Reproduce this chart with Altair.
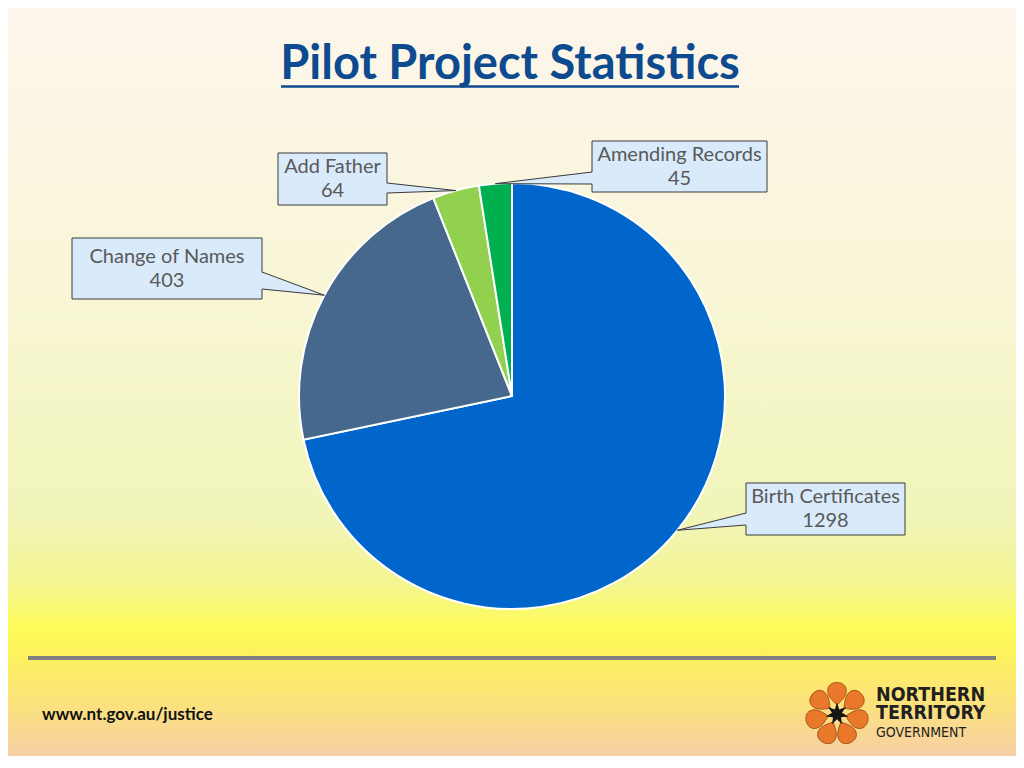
import math
import altair as alt
import pandas as pd
import numpy as np

# ---------------- data ----------------
categories = ["Birth Certificates", "Change of Names", "Add Father", "Amending Records"]
values = [1298, 403, 64, 45]
slice_colors = ["#0066cc", "#45688c", "#92d050", "#00b050"]

title_text = "Pilot Project Statis\u200ctics"
footer_text = "www.nt.gov.au/justice"
logo_lines = ["NORTHERN", "TERRITORY", "GOVERNMENT"]

# ---------------- layout (screen px) ----------------
W, H = 1008, 748
OFF = 8
CX, CY, R = 512, 396, 213

CALLOUTS = {
    "Birth Certificates": dict(x0=746, x1=905, y0=483, y1=535, b0=513, b1=525),
    "Change of Names": dict(x0=72, x1=262, y0=238, y1=299, b0=272, b1=289),
    "Add Father": dict(x0=278, x1=387, y0=153, y1=205, b0=183, b1=193),
    "Amending Records": dict(x0=592, x1=767, y0=141, y1=192, b0=172, b1=184),
}

XS = alt.Scale(domain=[OFF, OFF + W], nice=False, zero=False)
YS = alt.Scale(domain=[OFF, OFF + H], nice=False, zero=False, reverse=True)


def px(v):
    return v - OFF


# ---------------- derived tables ----------------
pie_df = pd.DataFrame({"category": categories, "value": values, "order": range(len(values))})
total = float(sum(values))
cum = np.cumsum(values)
mid = [(c - v / 2.0) / total * 2 * math.pi for c, v in zip(cum, values)]
tips = {cat: (CX + R * math.sin(a), CY - R * math.cos(a)) for cat, a in zip(categories, mid)}

box_rows, area_rows, line_rows, text_rows = [], [], [], []
for cat, val in zip(categories, values):
    L = CALLOUTS[cat]
    tx, ty = tips[cat]
    box_rows.append(dict(cat=cat, x0=L["x0"], x1=L["x1"], y0=L["y0"], y1=L["y1"]))
    if tx > L["x1"]:
        bx, inner = L["x1"], L["x1"] - 1.5
    else:
        bx, inner = L["x0"], L["x0"] + 1.5
    area_rows += [
        dict(cat=cat, x=inner, y=L["b0"], y2=L["b1"]),
        dict(cat=cat, x=tx, y=ty, y2=ty),
    ]
    line_rows += [
        dict(cat=cat, o=0, x=bx, y=L["b0"]),
        dict(cat=cat, o=1, x=tx, y=ty),
        dict(cat=cat, o=2, x=bx, y=L["b1"]),
    ]
    cxm = (L["x0"] + L["x1"]) / 2.0
    cym = (L["y0"] + L["y1"]) / 2.0
    text_rows += [
        dict(cat=cat, x=cxm, y=cym - 12, t=cat),
        dict(cat=cat, x=cxm, y=cym + 12, t=str(val)),
    ]

box_df = pd.DataFrame(box_rows)
area_df = pd.DataFrame(area_rows)
line_df = pd.DataFrame(line_rows)
text_df = pd.DataFrame(text_rows)

one = pd.DataFrame({"a": [0]})

# ---------------- background ----------------
bg = alt.Chart(one).mark_rect(
    fill=alt.Gradient(
        gradient="linear",
        x1=0, x2=0, y1=0, y2=1,
        stops=[
            alt.GradientStop(offset=0.0, color="#fcf6ec"),
            alt.GradientStop(offset=0.38, color="#f8f6d6"),
            alt.GradientStop(offset=0.68, color="#f1f5b8"),
            alt.GradientStop(offset=0.77, color="#f4f590"),
            alt.GradientStop(offset=0.83, color="#fefc58"),
            alt.GradientStop(offset=0.87, color="#fdf060"),
            alt.GradientStop(offset=0.93, color="#fbe27c"),
            alt.GradientStop(offset=1.0, color="#f7cfa6"),
        ],
    )
).encode(x=alt.value(0), x2=alt.value(W), y=alt.value(0), y2=alt.value(H))

# ---------------- title ----------------
title = alt.Chart(one).mark_text(
    text=title_text, font="Lato", fontWeight="bold", fontSize=47,
    color="#0d4a8f", align="center", baseline="alphabetic",
).encode(x=alt.value(px(510)), y=alt.value(px(79)))

underline = alt.Chart(one).mark_rule(color="#0d4a8f", strokeWidth=2.5).encode(
    x=alt.value(px(281)), x2=alt.value(px(739)), y=alt.value(px(86.5))
)

# ---------------- pie ----------------
pie = alt.Chart(pie_df).mark_arc(
    radius=R, stroke="white", strokeWidth=2
).encode(
    theta=alt.Theta("value:Q", stack=True),
    order=alt.Order("order:Q"),
    color=alt.Color("category:N", scale=alt.Scale(domain=categories, range=slice_colors), legend=None),
    x=alt.value(px(CX)),
    y=alt.value(px(CY)),
)

# ---------------- callouts ----------------
boxes = alt.Chart(box_df).mark_rect(fill="#d9eafb", stroke="#3a3a3a", strokeWidth=1).encode(
    x=alt.X("x0:Q", scale=XS, axis=None),
    x2="x1:Q",
    y=alt.Y("y0:Q", scale=YS, axis=None),
    y2="y1:Q",
)

wedges = alt.Chart(area_df).mark_area(orient="vertical", fill="#d9eafb", opacity=1).encode(
    x=alt.X("x:Q", scale=XS, axis=None),
    y=alt.Y("y:Q", scale=YS, axis=None),
    y2="y2:Q",
    detail="cat:N",
)

wedge_lines = alt.Chart(line_df).mark_line(color="#3a3a3a", strokeWidth=1).encode(
    x=alt.X("x:Q", scale=XS, axis=None),
    y=alt.Y("y:Q", scale=YS, axis=None),
    order="o:Q",
    detail="cat:N",
)

labels = alt.Chart(text_df).mark_text(
    font="Lato", fontSize=20, color="#595959", align="center", baseline="middle"
).encode(
    x=alt.X("x:Q", scale=XS, axis=None),
    y=alt.Y("y:Q", scale=YS, axis=None),
    text="t:N",
)

# ---------------- footer ----------------
sep = alt.Chart(one).mark_rule(color="#808080", strokeWidth=4).encode(
    x=alt.value(px(28)), x2=alt.value(px(996)), y=alt.value(px(658))
)

footer = alt.Chart(one).mark_text(
    text=footer_text, font="Lato", fontWeight="bold", fontSize=17,
    color="#111111", align="left", baseline="alphabetic",
).encode(x=alt.value(px(42)), y=alt.value(px(720)))

# logo: teardrop petals + star
LCX, LCY, LR = 837, 714, 19.5
petal_df = pd.DataFrame({
    "x": [LCX + LR * math.sin(2 * math.pi * k / 7) for k in range(7)],
    "y": [LCY - LR * math.cos(2 * math.pi * k / 7) for k in range(7)],
    "ang": [360.0 * k / 7 for k in range(7)],
})
petal_path = (
    "M0,0.95C-0.5,0.5 -0.85,0.1 -0.85,-0.35"
    "C-0.85,-0.85 -0.45,-1.1 0,-1.1"
    "C0.45,-1.1 0.85,-0.85 0.85,-0.35"
    "C0.85,0.1 0.5,0.5 0,0.95Z"
)
petals = alt.Chart(petal_df).mark_point(
    shape=petal_path, size=484, filled=True, color="#e9782a", opacity=1,
    stroke="#9a4a10", strokeWidth=0.8,
).encode(
    x=alt.X("x:Q", scale=XS, axis=None),
    y=alt.Y("y:Q", scale=YS, axis=None),
    angle=alt.Angle("ang:Q", scale=None),
)

pts = []
for k in range(14):
    r = 1.0 if k % 2 == 0 else 0.45
    a = math.pi * k / 7
    pts.append((r * math.sin(a), -r * math.cos(a)))
star_path = "M" + "L".join(f"{x:.3f},{y:.3f}" for x, y in pts) + "Z"
star = alt.Chart(one).mark_point(
    shape=star_path, size=520, filled=True, color="#151515", opacity=1
).encode(x=alt.value(px(LCX)), y=alt.value(px(LCY)))

logo_txt12 = alt.Chart(one).mark_text(
    text=[logo_lines[0], logo_lines[1]], font="DejaVu Sans Condensed", fontWeight="bold",
    fontSize=19.5, lineHeight=18, color="#231f20", align="left", baseline="alphabetic",
).encode(x=alt.value(px(876)), y=alt.value(px(701)))
logo_txt3 = alt.Chart(one).mark_text(
    text=logo_lines[2], font="DejaVu Sans Condensed", fontSize=14,
    color="#231f20", align="left", baseline="alphabetic",
).encode(x=alt.value(px(876)), y=alt.value(px(737)))

chart = alt.layer(
    bg, title, underline, pie, boxes, wedges, wedge_lines, labels,
    sep, footer, petals, star, logo_txt12, logo_txt3,
).properties(
    width=W, height=H, padding=0, autosize=alt.AutoSizeParams(type="none"),
    background="#fbf4e6",
).configure_view(stroke=None)

chart.save("out.html", embed_options={"renderer": "svg", "actions": False})
